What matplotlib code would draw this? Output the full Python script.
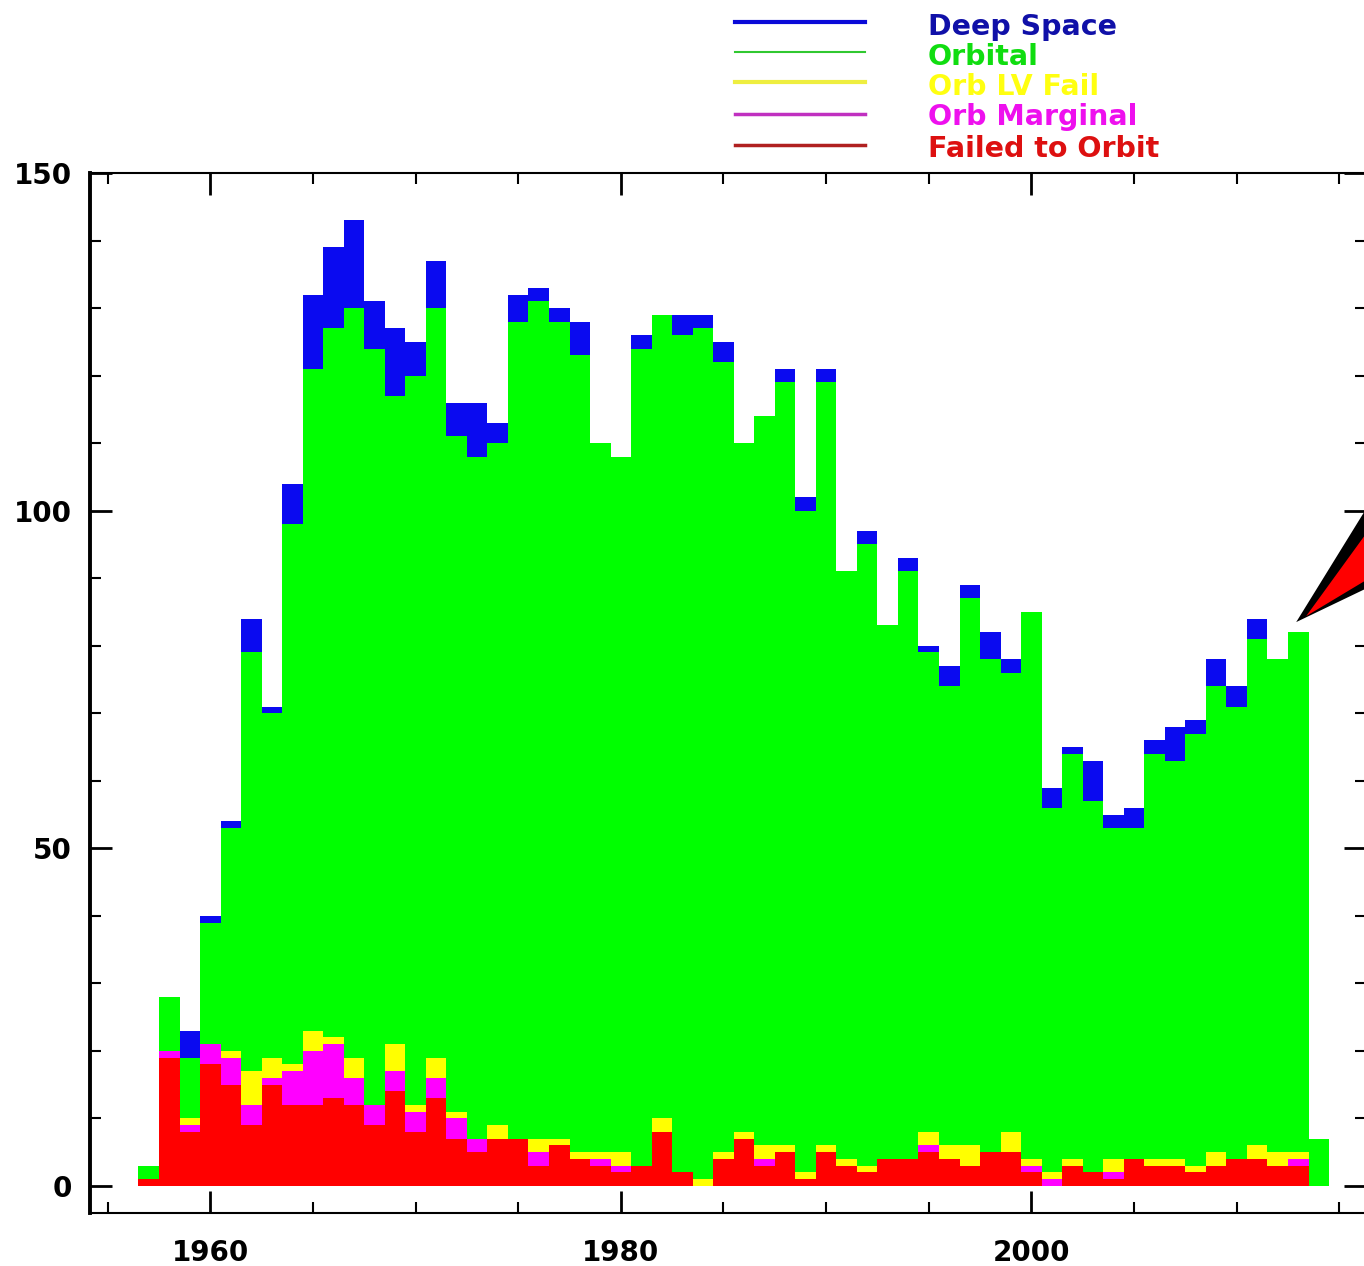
import numpy as np
import matplotlib
matplotlib.use('Agg')
import matplotlib.pyplot as plt
from matplotlib.lines import Line2D
from matplotlib.patches import Polygon
from matplotlib.ticker import FixedLocator, MultipleLocator
from matplotlib.transforms import Affine2D

# launches per year, split by outcome
years = np.arange(1957, 2015)

failed = [1, 19, 8, 18, 15, 9, 15, 12, 12, 13, 12, 9, 14, 8, 13, 7, 5, 7, 7, 3,
          6, 4, 3, 2, 3, 8, 2, 0, 4, 7, 3, 5, 1, 5, 3, 2, 4, 4, 5, 4,
          3, 5, 5, 2, 0, 3, 2, 1, 4, 3, 3, 2, 3, 4, 4, 3, 3, 0]
marginal = [0, 1, 1, 3, 4, 3, 1, 5, 8, 8, 4, 3, 3, 3, 3, 3, 2, 0, 0, 2,
            0, 0, 1, 1, 0, 0, 0, 0, 0, 0, 1, 0, 0, 0, 0, 0, 0, 0, 1, 0,
            0, 0, 0, 1, 1, 0, 0, 1, 0, 0, 0, 0, 0, 0, 0, 0, 1, 0]
lv_fail = [0, 0, 1, 0, 1, 5, 3, 1, 3, 1, 3, 0, 4, 1, 3, 1, 0, 2, 0, 2,
           1, 1, 1, 2, 0, 2, 0, 1, 1, 1, 2, 1, 1, 1, 1, 1, 0, 0, 2, 2,
           3, 0, 3, 1, 1, 1, 0, 2, 0, 1, 1, 1, 2, 0, 2, 2, 1, 0]
orbital = [2, 8, 9, 18, 33, 62, 51, 80, 98, 105, 111, 112, 96, 108, 111, 100, 101, 101, 121, 124,
           121, 118, 105, 103, 121, 119, 124, 126, 117, 102, 108, 113, 98, 113, 87, 92, 79, 87, 71, 68,
           81, 73, 68, 81, 54, 60, 55, 49, 49, 60, 59, 64, 69, 67, 75, 73, 77, 7]
deep_space = [0, 0, 4, 1, 1, 5, 1, 6, 11, 12, 13, 7, 10, 5, 7, 5, 8, 3, 4, 2,
              2, 5, 0, 0, 2, 0, 3, 2, 3, 0, 0, 2, 2, 2, 0, 2, 0, 2, 1, 3,
              2, 4, 2, 0, 3, 1, 6, 2, 3, 2, 5, 2, 4, 3, 3, 0, 0, 0]

labels = ['Deep Space', 'Orbital', 'Orb LV Fail', 'Orb Marginal', 'Failed to Orbit']

plt.rcParams['font.family'] = 'DejaVu Sans'
plt.rcParams['font.weight'] = 'bold'

W, H = 1364, 1266
fig = plt.figure(figsize=(W / 100, H / 100), dpi=100, facecolor='white')
ax = fig.add_axes([90 / W, (H - 1213) / H, (1366 - 90) / W, (1213 - 173) / H])

# stacked histogram, bottom to top
edges = np.append(years - 0.5, years[-1] + 0.5)
layers = [(failed, '#ff0000'), (marginal, '#ff00ff'), (lv_fail, '#ffff00'),
          (orbital, '#00ff00'), (deep_space, '#0a0af0')]
bottom = np.zeros(len(years))
for vals, col in layers:
    top = bottom + np.array(vals)
    ax.stairs(top, edges, baseline=bottom, fill=True, color=col, linewidth=0)
    bottom = top

ax.set_xlim(1954.14, 2016.3)
ax.set_ylim(-4, 150)

ax.xaxis.set_major_locator(FixedLocator([1960, 1980, 2000]))
ax.xaxis.set_minor_locator(MultipleLocator(5))
ax.yaxis.set_major_locator(MultipleLocator(50))
ax.yaxis.set_minor_locator(MultipleLocator(10))
ax.tick_params(which='both', direction='in', top=True, right=True, colors='black')
ax.tick_params(which='major', length=16, width=2)
ax.tick_params(which='minor', length=8, width=1.5)
ax.tick_params(axis='x', pad=19, labelsize=20)
ax.tick_params(axis='y', pad=13, labelsize=20)
for side in ['top', 'right', 'bottom']:
    ax.spines[side].set_linewidth(1.5)
ax.spines['left'].set_linewidth(2.8)

# legend drawn above the plot, outside the axes
legend_rows = [
    (22, 35, '#0a0ad8', 3.0, '#1010a8'),
    (52, 65, '#30c830', 1.5, '#10dd10'),
    (82, 95, '#eeee40', 3.0, '#ffff10'),
    (114, 125, '#c030c0', 2.5, '#ee10ee'),
    (145, 157, '#b02020', 2.5, '#dd1010'),
]
for lab, (ly, by, lc, lw, tc) in zip(labels, legend_rows):
    fig.add_artist(Line2D([735 / W, 865 / W], [1 - ly / H, 1 - ly / H],
                          transform=fig.transFigure, color=lc, lw=lw))
    fig.text(928 / W, 1 - by / H, lab, color=tc, fontsize=20.5,
             fontweight='bold', ha='left', va='baseline')

# pointer wedge at the last full year
tip = ax.transData.transform((2012.9, 83.5))
shift = Affine2D().translate(tip[0], tip[1])
black = Polygon([(0, 0), (100, 162), (150, 72)], closed=True,
                facecolor='black', edgecolor='none', transform=shift, clip_on=False)
red = Polygon([(10, 6), (100, 130), (150, 90)], closed=True,
              facecolor='#ff0000', edgecolor='none', transform=shift, clip_on=False)
fig.add_artist(black)
fig.add_artist(red)

fig.savefig('out.png', dpi=100, facecolor='white')
